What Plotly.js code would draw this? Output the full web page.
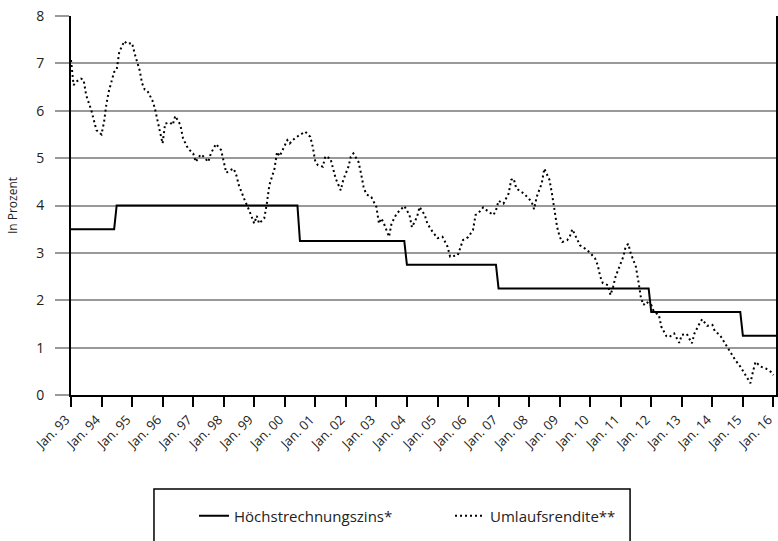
<!DOCTYPE html>
<html>
<head>
<meta charset="utf-8">
<script src="https://cdn.plot.ly/plotly-3.0.1.min.js"></script>
<style>html,body{margin:0;padding:0;background:#fff;}#chart{width:778px;height:541px;}</style>
</head>
<body>
<div id="chart"></div>
<script>
// Höchstrechnungszins (step series)
const hrzDates = ["1993-01-01","1994-06-01","1994-07-01","2000-06-01","2000-07-01","2003-12-01","2004-01-01","2006-12-01","2007-01-01","2011-12-01","2012-01-01","2014-12-01","2015-01-01","2016-02-01"];
const hrzValues = [3.5,3.5,4.0,4.0,3.25,3.25,2.75,2.75,2.25,2.25,1.75,1.75,1.25,1.25];

// Umlaufsrendite
const urDates = ["1993-01","1993-02","1993-03","1993-05","1993-06","1993-07","1993-09","1993-10","1993-11","1994-01",
"1994-02","1994-03","1994-04","1994-06","1994-07","1994-08","1994-10","1994-11","1995-01","1995-02",
"1995-04","1995-05","1995-06","1995-07","1995-09","1995-10","1995-11","1995-12","1996-01","1996-02",
"1996-04","1996-05","1996-06","1996-08","1996-09","1996-11","1997-01","1997-02","1997-04","1997-05",
"1997-07","1997-08","1997-10","1997-12","1998-01","1998-02","1998-03","1998-05","1998-06","1998-07",
"1998-09","1998-10","1998-11","1999-01","1999-02","1999-03","1999-05","1999-06","1999-07","1999-09",
"1999-10","1999-11","2000-02","2000-03","2000-05","2000-07","2000-09","2000-11","2000-12","2001-01",
"2001-02","2001-04","2001-05","2001-07","2001-08","2001-09","2001-11","2001-12","2002-02","2002-03",
"2002-04","2002-06","2002-07","2002-08","2002-09","2002-11","2003-01","2003-02","2003-03","2003-04",
"2003-06","2003-07","2003-09","2003-12","2004-02","2004-03","2004-05","2004-06","2004-08","2004-09",
"2004-11","2005-01","2005-03","2005-05","2005-06","2005-08","2005-09","2005-11","2006-01","2006-03",
"2006-04","2006-05","2006-07","2006-09","2006-11","2006-12","2007-01","2007-03","2007-05","2007-06",
"2007-07","2007-08","2007-09","2007-11","2008-02","2008-03","2008-04","2008-06","2008-07","2008-09",
"2008-10","2008-11","2008-12","2009-01","2009-02","2009-04","2009-05","2009-06","2009-08","2009-09",
"2009-11","2010-01","2010-03","2010-04","2010-05","2010-06","2010-08","2010-09","2010-10","2010-11",
"2010-12","2011-02","2011-03","2011-04","2011-05","2011-07","2011-08","2011-09","2011-10","2011-11",
"2012-01","2012-02","2012-04","2012-05","2012-07","2012-08","2012-10","2012-12","2013-01","2013-03",
"2013-05","2013-06","2013-08","2013-09","2013-11","2014-01","2014-02","2014-04","2014-06","2014-08",
"2014-10","2014-12","2015-02","2015-03","2015-04","2015-05","2015-06","2015-08","2015-10","2015-12",
"2016-01"];
const urValues = [7.07,6.54,6.61,6.68,6.65,6.33,6.01,5.77,5.59,5.50,
5.77,6.15,6.43,6.82,6.86,7.24,7.47,7.41,7.43,7.21,
6.86,6.58,6.45,6.43,6.22,6.05,5.80,5.52,5.31,5.73,
5.75,5.70,5.89,5.70,5.42,5.20,5.10,4.92,5.08,5.04,
4.92,5.10,5.30,5.17,4.92,4.69,4.73,4.78,4.64,4.43,
4.15,4.03,3.90,3.62,3.78,3.62,3.73,4.04,4.43,4.78,
5.13,5.04,5.38,5.31,5.42,5.49,5.56,5.45,5.24,4.92,
4.85,4.82,5.04,4.99,4.78,4.57,4.32,4.54,4.82,5.03,
5.10,4.92,4.68,4.39,4.24,4.18,3.97,3.62,3.73,3.62,
3.34,3.62,3.83,3.99,3.80,3.54,3.76,3.97,3.80,3.62,
3.45,3.31,3.34,3.13,2.92,2.95,2.95,3.27,3.33,3.48,
3.80,3.83,3.96,3.87,3.80,3.90,4.10,4.04,4.25,4.54,
4.57,4.36,4.32,4.25,4.08,3.92,4.18,4.47,4.78,4.54,
4.25,3.90,3.55,3.34,3.23,3.27,3.34,3.50,3.27,3.16,
3.09,3.00,2.88,2.74,2.50,2.36,2.32,2.11,2.28,2.50,
2.64,2.92,3.13,3.19,2.99,2.71,2.39,2.04,1.90,1.97,
1.90,1.76,1.69,1.44,1.24,1.22,1.30,1.10,1.27,1.29,
1.09,1.30,1.51,1.60,1.46,1.48,1.34,1.27,1.09,0.91,
0.74,0.60,0.42,0.32,0.25,0.49,0.70,0.60,0.56,0.49,
0.42];

const tickYears = ["1993","1994","1995","1996","1997","1998","1999","2000","2001","2002","2003","2004","2005","2006","2007","2008","2009","2010","2011","2012","2013","2014","2015","2016"];
const tickLabels = ["Jan. 93","Jan. 94","Jan. 95","Jan. 96","Jan. 97","Jan. 98","Jan. 99","Jan. 00","Jan. 01","Jan. 02","Jan. 03","Jan. 04","Jan. 05","Jan. 06","Jan. 07","Jan. 08","Jan. 09","Jan. 10","Jan. 11","Jan. 12","Jan. 13","Jan. 14","Jan. 15","Jan. 16"];

const traces = [
  {x: hrzDates, y: hrzValues, type: 'scatter', mode: 'lines', name: 'Höchstrechnungszins*',
   line: {color: '#000', width: 2}},
  {x: urDates.map(d => d + '-01'), y: urValues, type: 'scatter', mode: 'lines', name: 'Umlaufsrendite**',
   line: {color: '#000', width: 2, dash: '2px,3px'}}
];

const FONT = 'Open Sans, Noto Sans, sans-serif';

const layout = {
  width: 778, height: 541,
  margin: {l: 71, r: 2, t: 16, b: 146, pad: 0},
  paper_bgcolor: '#fff', plot_bgcolor: '#fff',
  font: {family: FONT, size: 13, color: '#222'},
  showlegend: true,
  xaxis: {
    type: 'date',
    range: ['1993-01-01', '2016-02-01'],
    tickvals: tickYears.map(y => y + '-01-01'),
    ticktext: tickLabels,
    tickangle: -45,
    ticklabeloverflow: 'allow',
    ticklabelshift: -5,
    ticks: 'outside', ticklen: 10, tickwidth: 2, tickcolor: '#000',
    showgrid: false, zeroline: false,
    showline: true, linecolor: '#000', linewidth: 2,
    tickfont: {family: FONT, size: 13, color: '#222'}
  },
  yaxis: {
    range: [0, 8],
    tickvals: [0,1,2,3,4,5,6,7,8],
    ticks: 'outside', ticklen: 14, tickwidth: 2, tickcolor: '#999',
    ticklabelstandoff: 8,
    showgrid: true, gridcolor: '#999', gridwidth: 2,
    zeroline: false,
    showline: true, linecolor: '#000', linewidth: 2, mirror: true,
    tickfont: {family: FONT, size: 14, color: '#222'},
    title: {text: 'In Prozent', font: {family: FONT, size: 12, color: '#222'}, standoff: 16}
  },
  legend: {
    orientation: 'h',
    x: 0.1745, xanchor: 'left',
    y: -0.319, yanchor: 'middle',
    bgcolor: 'rgba(0,0,0,0)', borderwidth: 0,
    font: {family: FONT, size: 15, color: '#222'},
    entrywidth: 211, entrywidthmode: 'pixels'
  },
  shapes: [
    {type: 'rect', xref: 'paper', yref: 'paper', x0: 0.1177, x1: 0.793, y0: -0.248, y1: -0.6,
     line: {color: '#000', width: 1.5}, fillcolor: 'rgba(0,0,0,0)'}
  ]
};

Plotly.newPlot('chart', traces, layout, {displayModeBar: false, staticPlot: true});
</script>
</body>
</html>
